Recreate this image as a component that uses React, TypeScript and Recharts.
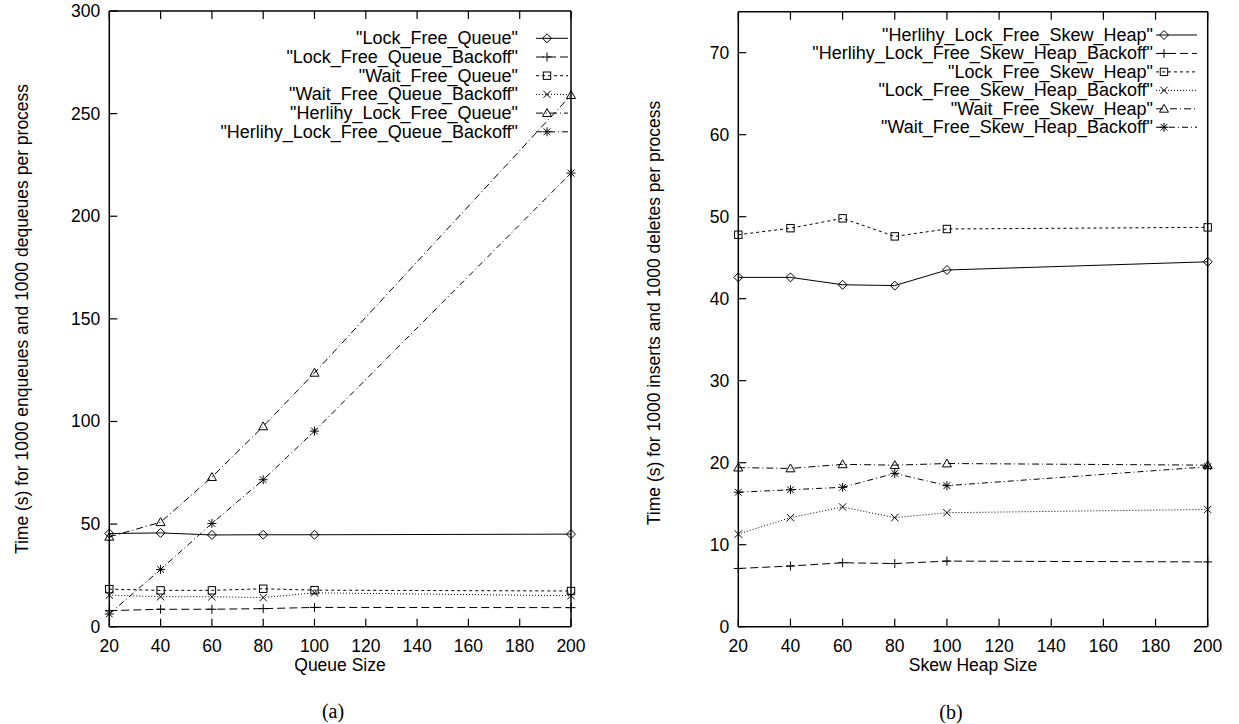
import { Line, LineChart, XAxis, YAxis } from 'recharts';

// x positions of the measurements and the axis ticks
const sizes = [20, 40, 60, 80, 100, 200];
const sizeTicks = [20, 40, 60, 80, 100, 120, 140, 160, 180, 200];
const queueTicks = [0, 50, 100, 150, 200, 250, 300];
const heapTicks = [0, 10, 20, 30, 40, 50, 60, 70];

// (a) queues
const lockFreeQueue = [45.4, 45.7, 44.7, 44.8, 44.8, 45.1];
const lockFreeQueueBackoff = [7.8, 8.5, 8.5, 8.8, 9.4, 9.3];
const waitFreeQueue = [18.3, 17.7, 17.7, 18.5, 17.8, 17.4];
const waitFreeQueueBackoff = [15.4, 14.6, 14.6, 14.2, 16.5, 15.1];
const herlihyLockFreeQueue = [43.8, 50.9, 72.9, 97.6, 123.7, 259];
const herlihyLockFreeQueueBackoff = [6.2, 27.9, 50.3, 71.6, 95.3, 221];

// (b) skew heaps
const herlihySkewHeap = [42.6, 42.6, 41.7, 41.6, 43.5, 44.5];
const herlihySkewHeapBackoff = [7.1, 7.4, 7.8, 7.7, 8.0, 7.9];
const lockFreeSkewHeap = [47.8, 48.6, 49.8, 47.6, 48.5, 48.7];
const lockFreeSkewHeapBackoff = [11.3, 13.3, 14.6, 13.3, 13.9, 14.3];
const waitFreeSkewHeap = [19.4, 19.3, 19.8, 19.7, 19.9, 19.7];
const waitFreeSkewHeapBackoff = [16.4, 16.7, 17.0, 18.7, 17.2, 19.5];

type MarkerKind = 'diamond' | 'plus' | 'square' | 'cross' | 'triangle' | 'star';

interface Series {
  key: string;
  label: string;
  values: number[];
  marker: MarkerKind;
  dash?: string;
}

const SOLID = undefined;
const DASHED = '8 4';
const SHORT_DASH = '3 3';
const DOTTED = '1 2';
const DASH_DOT = '7 3 1 3';
const DASH_DOT2 = '6 3 1 3';

const queueSeries: Series[] = [
  { key: 'lfq', label: '"Lock_Free_Queue"', values: lockFreeQueue, marker: 'diamond', dash: SOLID },
  { key: 'lfqb', label: '"Lock_Free_Queue_Backoff"', values: lockFreeQueueBackoff, marker: 'plus', dash: DASHED },
  { key: 'wfq', label: '"Wait_Free_Queue"', values: waitFreeQueue, marker: 'square', dash: SHORT_DASH },
  { key: 'wfqb', label: '"Wait_Free_Queue_Backoff"', values: waitFreeQueueBackoff, marker: 'cross', dash: DOTTED },
  { key: 'hlfq', label: '"Herlihy_Lock_Free_Queue"', values: herlihyLockFreeQueue, marker: 'triangle', dash: DASH_DOT },
  { key: 'hlfqb', label: '"Herlihy_Lock_Free_Queue_Backoff"', values: herlihyLockFreeQueueBackoff, marker: 'star', dash: DASH_DOT2 },
];

const heapSeries: Series[] = [
  { key: 'hsh', label: '"Herlihy_Lock_Free_Skew_Heap"', values: herlihySkewHeap, marker: 'diamond', dash: SOLID },
  { key: 'hshb', label: '"Herlihy_Lock_Free_Skew_Heap_Backoff"', values: herlihySkewHeapBackoff, marker: 'plus', dash: DASHED },
  { key: 'lsh', label: '"Lock_Free_Skew_Heap"', values: lockFreeSkewHeap, marker: 'square', dash: SHORT_DASH },
  { key: 'lshb', label: '"Lock_Free_Skew_Heap_Backoff"', values: lockFreeSkewHeapBackoff, marker: 'cross', dash: DOTTED },
  { key: 'wsh', label: '"Wait_Free_Skew_Heap"', values: waitFreeSkewHeap, marker: 'triangle', dash: DASH_DOT },
  { key: 'wshb', label: '"Wait_Free_Skew_Heap_Backoff"', values: waitFreeSkewHeapBackoff, marker: 'star', dash: DASH_DOT2 },
];

const FONT = '"Liberation Sans", Arial, Helvetica, sans-serif';
const FONT_SIZE = 17.5;
const KEY_FONT_SIZE = 18;
const TICK_LEN = 8;
const frame = { stroke: '#000', strokeWidth: 1.5 };

function Marker({ kind, cx, cy }: { kind: MarkerKind; cx: number; cy: number }) {
  const common = { stroke: '#000', strokeWidth: 1, fill: 'none' };
  switch (kind) {
    case 'diamond': {
      const s = 4.5;
      return <path d={`M${cx} ${cy - s}L${cx + s} ${cy}L${cx} ${cy + s}L${cx - s} ${cy}Z`} {...common} />;
    }
    case 'plus': {
      const s = 4.5;
      return <path d={`M${cx - s} ${cy}H${cx + s}M${cx} ${cy - s}V${cy + s}`} {...common} />;
    }
    case 'square': {
      const s = 3.7;
      return <rect x={cx - s} y={cy - s} width={2 * s} height={2 * s} {...common} />;
    }
    case 'cross': {
      const s = 3.7;
      return <path d={`M${cx - s} ${cy - s}L${cx + s} ${cy + s}M${cx - s} ${cy + s}L${cx + s} ${cy - s}`} {...common} />;
    }
    case 'triangle': {
      const s = 4.5;
      return <path d={`M${cx} ${cy - s}L${cx + s} ${cy + s * 0.75}L${cx - s} ${cy + s * 0.75}Z`} {...common} />;
    }
    case 'star': {
      const s = 4.5;
      const d = 3.4;
      return (
        <path
          d={`M${cx - s} ${cy}H${cx + s}M${cx} ${cy - s}V${cy + s}M${cx - d} ${cy - d}L${cx + d} ${cy + d}M${cx - d} ${cy + d}L${cx + d} ${cy - d}`}
          {...common}
        />
      );
    }
  }
  return null;
}

// ticks point inwards on every side of the frame, as gnuplot draws them
const LeftTick = (p: any) => (
  <g>
    <line x1={p.x} x2={p.x + TICK_LEN} y1={p.y} y2={p.y} stroke="#000" strokeWidth={1.2} />
    <text x={p.x - 9} y={p.y} textAnchor="end" dominantBaseline="central" fontSize={FONT_SIZE} fontFamily={FONT} fill="#000">
      {p.payload.value}
    </text>
  </g>
);

const RightTick = (p: any) => (
  <line x1={p.x} x2={p.x - TICK_LEN} y1={p.y} y2={p.y} stroke="#000" strokeWidth={1.2} />
);

const BottomTick = (p: any) => (
  <g>
    <line x1={p.x} x2={p.x} y1={p.y} y2={p.y - TICK_LEN} stroke="#000" strokeWidth={1.2} />
    <text x={p.x} y={p.y + 19} textAnchor="middle" dominantBaseline="central" fontSize={FONT_SIZE} fontFamily={FONT} fill="#000">
      {p.payload.value}
    </text>
  </g>
);

const TopTick = (p: any) => (
  <line x1={p.x} x2={p.x} y1={p.y} y2={p.y + TICK_LEN} stroke="#000" strokeWidth={1.2} />
);

interface PanelProps {
  series: Series[];
  yTicks: number[];
  yMax: number;
  width: number;
  margin: { top: number; right: number; bottom: number; left: number };
}

function Panel({ series, yTicks, yMax, width, margin }: PanelProps) {
  const data = sizes.map((size, i) => {
    const row: Record<string, number> = { size };
    series.forEach((s) => {
      row[s.key] = s.values[i];
    });
    return row;
  });

  const xCommon = {
    dataKey: 'size',
    type: 'number' as const,
    domain: [20, 200],
    ticks: sizeTicks,
    interval: 0 as const,
    tickSize: 0,
    tickMargin: 0,
    tickLine: false,
    axisLine: frame,
  };
  const yCommon = {
    type: 'number' as const,
    domain: [0, yMax],
    ticks: yTicks,
    interval: 0 as const,
    tickSize: 0,
    tickMargin: 0,
    tickLine: false,
    axisLine: frame,
  };

  return (
    <LineChart width={width} height={724} data={data} margin={margin}>
      <XAxis xAxisId="bottom" {...xCommon} height={30} tick={BottomTick} />
      <XAxis xAxisId="top" orientation="top" {...xCommon} height={10} tick={TopTick} />
      <YAxis yAxisId="left" {...yCommon} width={60} tick={LeftTick} />
      <YAxis yAxisId="right" orientation="right" {...yCommon} width={10} tick={RightTick} />
      {series.map((s) => (
        <Line
          key={s.key}
          xAxisId="bottom"
          yAxisId="left"
          type="linear"
          dataKey={s.key}
          stroke="#000"
          strokeWidth={1}
          strokeDasharray={s.dash}
          dot={(p: any) => <Marker key={`${s.key}-${p.index}`} kind={s.marker} cx={p.cx} cy={p.cy} />}
          activeDot={false}
          isAnimationActive={false}
        />
      ))}
    </LineChart>
  );
}

interface KeyProps {
  series: Series[];
  textRight: number;
  top: number;
  step: number;
  lineFrom: number;
  lineTo: number;
  markAt: number;
}

function Key({ series, textRight, top, step, lineFrom, lineTo, markAt }: KeyProps) {
  return (
    <g>
      {series.map((s, i) => {
        const y = top + i * step;
        return (
          <g key={s.key}>
            <text x={textRight} y={y} textAnchor="end" dominantBaseline="central" fontSize={KEY_FONT_SIZE} fontFamily={FONT} fill="#000">
              {s.label}
            </text>
            <line x1={lineFrom} x2={lineTo} y1={y} y2={y} stroke="#000" strokeWidth={1} strokeDasharray={s.dash} />
            <Marker kind={s.marker} cx={markAt} cy={y} />
          </g>
        );
      })}
    </g>
  );
}

export default function App() {
  return (
    <div style={{ position: 'absolute', left: 0, top: 0, width: 1239, height: 724, background: '#fff' }}>
      <div style={{ position: 'absolute', left: 0, top: 0 }}>
        <Panel
          series={queueSeries}
          yTicks={queueTicks}
          yMax={300}
          width={620}
          margin={{ top: 1, right: 39, bottom: 67.3, left: 49.3 }}
        />
      </div>
      <div style={{ position: 'absolute', left: 620, top: 0 }}>
        <Panel
          series={heapSeries}
          yTicks={heapTicks}
          yMax={75}
          width={619}
          margin={{ top: 1.7, right: 21.3, bottom: 67.3, left: 58.3 }}
        />
      </div>
      <svg
        width={1239}
        height={724}
        style={{ position: 'absolute', left: 0, top: 0, pointerEvents: 'none' }}
      >
        <Key series={queueSeries} textRight={518} top={38.3} step={18.7} lineFrom={536} lineTo={568} markAt={547} />
        <Key series={heapSeries} textRight={1153} top={35} step={18.45} lineFrom={1156} lineTo={1197} markAt={1164} />

        <text x={22} y={319} transform="rotate(-90 22 319)" textAnchor="middle" dominantBaseline="central" fontSize={FONT_SIZE} fontFamily={FONT} fill="#000">
          Time (s) for 1000 enqueues and 1000 dequeues per process
        </text>
        <text x={654} y={313} transform="rotate(-90 654 313)" textAnchor="middle" dominantBaseline="central" fontSize={FONT_SIZE} fontFamily={FONT} fill="#000">
          Time (s) for 1000 inserts and 1000 deletes per process
        </text>

        <text x={340} y={665} textAnchor="middle" dominantBaseline="central" fontSize={FONT_SIZE} fontFamily={FONT} fill="#000">
          Queue Size
        </text>
        <text x={973} y={665} textAnchor="middle" dominantBaseline="central" fontSize={FONT_SIZE} fontFamily={FONT} fill="#000">
          Skew Heap Size
        </text>

        <text x={333} y={711} textAnchor="middle" dominantBaseline="central" fontSize={20} fontFamily='"Liberation Serif", "DejaVu Serif", serif' fill="#000">
          (a)
        </text>
        <text x={951} y={712} textAnchor="middle" dominantBaseline="central" fontSize={20} fontFamily='"Liberation Serif", "DejaVu Serif", serif' fill="#000">
          (b)
        </text>
      </svg>
    </div>
  );
}
